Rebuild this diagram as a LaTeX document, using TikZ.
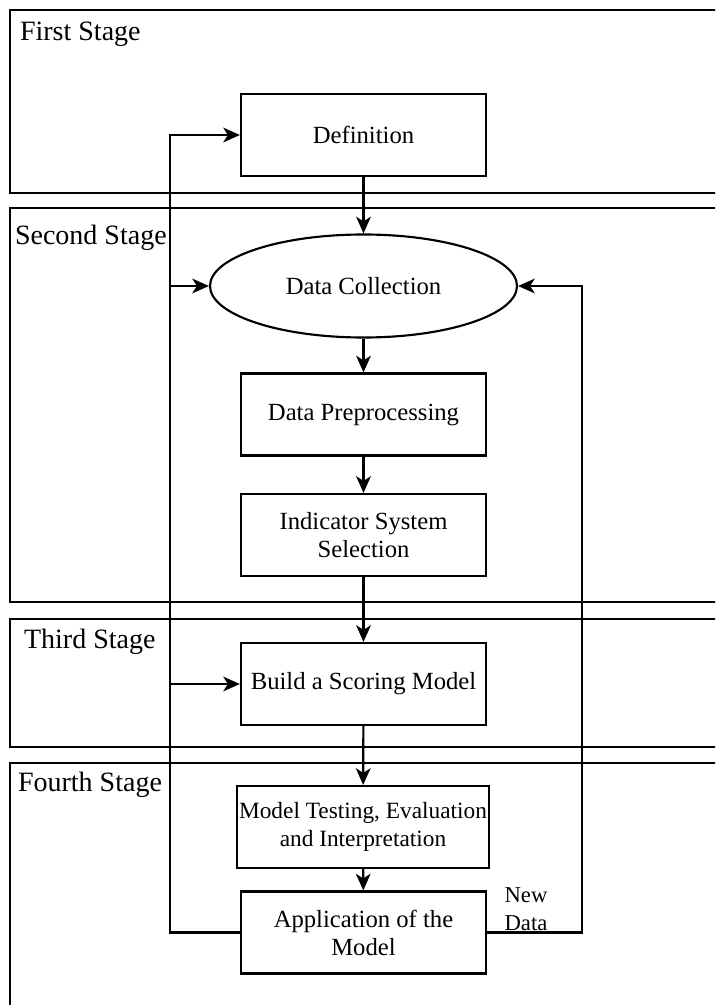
\documentclass[tikz,border=0pt]{standalone}
\usepackage{fontspec}
\setmainfont{Liberation Serif}
\usetikzlibrary{arrows.meta,shapes.geometric}
\begin{document}
\begin{tikzpicture}[x=0.75pt,y=-0.75pt,
  line width=1.6pt,
  frame/.style={draw,line width=1.6pt},
  stagelabel/.style={anchor=west,inner sep=0pt,font=\fontsize{21pt}{24pt}\selectfont},
  proc/.style={draw,rectangle,minimum width=183.75pt,minimum height=61.5pt,inner sep=2pt,
    align=center,font=\fontsize{18.5pt}{21pt}\selectfont},
  oval/.style={draw,ellipse,minimum width=230.25pt,minimum height=77.25pt,inner sep=0pt,
    font=\fontsize{18.5pt}{21pt}\selectfont},
  flow/.style={-{Stealth[length=12.5pt,width=11pt,inset=3.5pt]}},
  note/.style={align=center,inner sep=0pt,font=\fontsize{17pt}{21pt}\selectfont}]
\useasboundingbox (0,0) rectangle (715,1005);
\clip (0,0) rectangle (715,1005);

% stage frames (open past the right and bottom edges)
\draw[frame] (10,10) rectangle (740,193);
\draw[frame] (10,208) rectangle (740,602);
\draw[frame] (10,619) rectangle (740,747);
\draw[frame] (10,763) rectangle (740,1030);

\node[stagelabel] (s1) at (19,34) {First Stage};
\node[stagelabel] (s2) at (14,238) {Second Stage};
\node[stagelabel] (s3) at (23,642) {Third Stage};
\node[stagelabel] (s4) at (17,785) {Fourth Stage};

% process steps
\node[proc] (def) at (363.5,135) {Definition};
\node[oval] (coll) at (363.5,286) {Data Collection};
\node[proc] (prep) at (363.5,414.5) {Data Preprocessing};
\node[proc] (ind) at (363.5,535) {Indicator System\\Selection};
\node[proc] (build) at (363.5,684) {Build a Scoring Model};
\node[proc,minimum width=189pt,inner sep=1pt,font=\fontsize{17.5pt}{21pt}\selectfont] (test) at (363,827) {Model Testing, Evaluation\\and Interpretation};
\node[proc] (app) at (363.5,932.5) {Application of the\\Model};

% main flow
\draw[flow] (def) -- (coll);
\draw[flow] (coll) -- (prep);
\draw[flow] (prep) -- (ind);
\draw[flow] (ind) -- (build);
\draw[flow] (build) -- (test);
\draw[flow] (test) -- (app);

% feedback on the left
\coordinate (lb) at (170,932.5);
\coordinate (lt) at (170,135);
\coordinate (lc) at (170,286);
\coordinate (lm) at (170,684);
\draw[flow] (app.west) -- (lb) -- (lt) -- (def.west);
\draw[flow] (lc) -- (coll.west);
\draw[flow] (lm) -- (build.west);

% feedback on the right: new data
\coordinate (rb) at (582,932.5);
\coordinate (rt) at (582,286);
\draw[flow] (app.east) -- (rb) -- (rt) -- (coll.east);
\node[note] (nd) at (526,909) {New\\Data};
\end{tikzpicture}
\end{document}
